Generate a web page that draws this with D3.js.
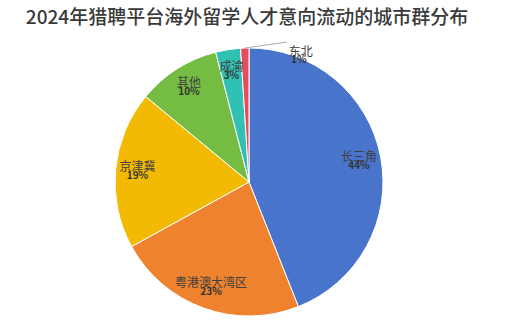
<!DOCTYPE html>
<html><head><meta charset="utf-8">
<script src="https://cdn.jsdelivr.net/npm/d3@7/dist/d3.min.js"></script>
<style>body{margin:0;background:#fff;}svg{display:block;}</style>
</head><body>
<svg id="c" width="513" height="324"></svg>
<script>
const categories = ["长三角","粤港澳大湾区","京津冀","其他","成渝","东北"];
const values = [44,23,19,10,3,1];
const percentLabels = ["44%","23%","19%","10%","3%","1%"];
const colors = ["#4874CB","#EE822F","#F2BA02","#75BD42","#30C0B4","#E54C5E"];
const title = "2024年猎聘平台海外留学人才意向流动的城市群分布";

const svg = d3.select("#c");
const W=513,H=324, cx=249, cy=182, R=134;
const font = "'Noto Sans CJK SC','Noto Sans',sans-serif";

svg.append("text").attr("x",247).attr("y",24).attr("text-anchor","middle")
  .attr("font-family",font).attr("font-size",19).attr("font-weight",500)
  .attr("fill","#3a3a3a").text(title);

const data = categories.map((c,i)=>({c,v:values[i],p:percentLabels[i],col:colors[i]}));
const pie = d3.pie().value(d=>d.v).sort(null);
const arcs = pie(data);
const arc = d3.arc().innerRadius(0).outerRadius(R);
const g = svg.append("g").attr("transform",`translate(${cx},${cy})`);
g.selectAll("path").data(arcs).join("path").attr("d",arc)
  .attr("fill",d=>d.data.col).attr("stroke","#fff").attr("stroke-width",1);

const labelArc = d3.arc().innerRadius(112).outerRadius(112);
arcs.forEach((a,i)=>{
  if(i===arcs.length-1){
    const outer = d3.arc().innerRadius(R).outerRadius(R).centroid(a);
    const end=[outer[0]+42, outer[1]-6];
    g.append("polyline").attr("points",[outer,end].map(p=>p.join(",")).join(" "))
      .attr("fill","none").attr("stroke","#aaa").attr("stroke-width",1);
    g.append("text").attr("x",end[0]+14).attr("y",end[1]+14).attr("text-anchor","middle")
      .attr("font-family",font).attr("font-size",12).attr("fill","#404040").text(a.data.c);
    g.append("text").attr("x",end[0]+12).attr("y",end[1]+21).attr("text-anchor","middle")
      .attr("font-family",font).attr("font-size",10).attr("font-weight","bold").attr("fill","#333").text(a.data.p);
    return;
  }
  const [x,y]=labelArc.centroid(a);
  g.append("text").attr("x",x).attr("y",y+0).attr("text-anchor","middle")
    .attr("font-family",font).attr("font-size",12).attr("fill","#404040").text(a.data.c);
  g.append("text").attr("x",x).attr("y",y+8).attr("text-anchor","middle")
    .attr("font-family",font).attr("font-size",10).attr("font-weight","bold").attr("fill","#333").text(a.data.p);
});
</script>
</body></html>
